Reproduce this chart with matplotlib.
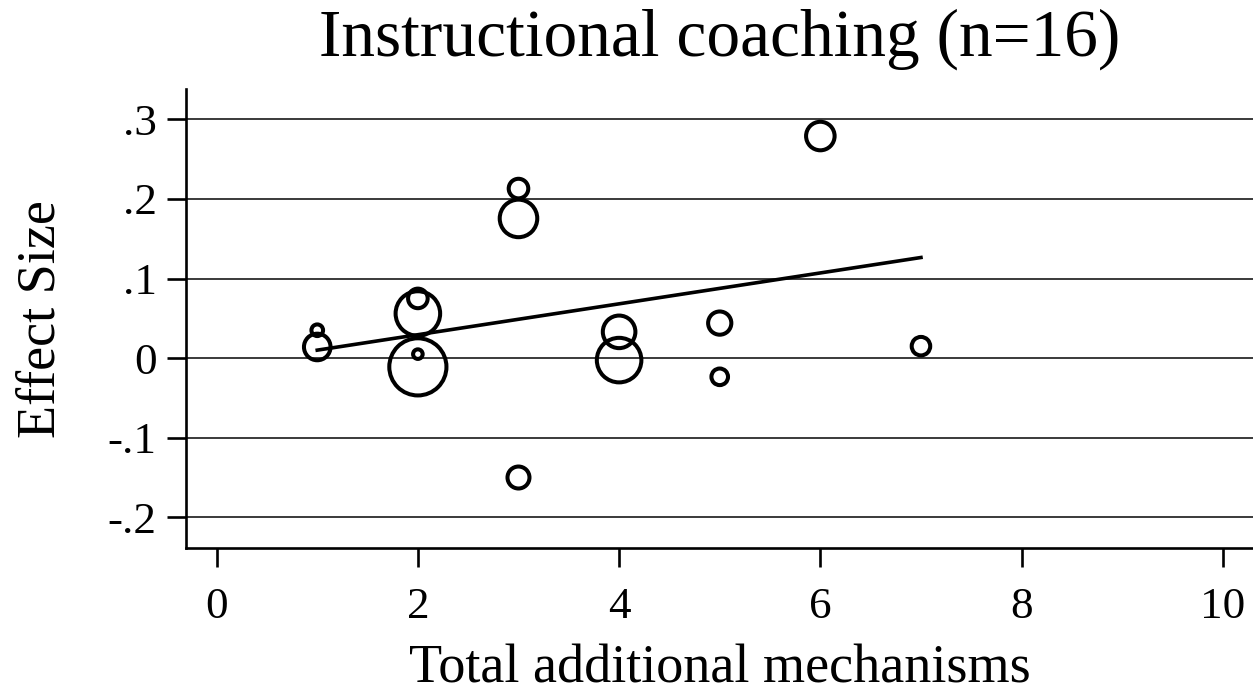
import numpy as np
import matplotlib.pyplot as plt

# studies: number of additional mechanisms, effect size, meta-analytic weight
mechanisms = [1, 1, 2, 2, 2, 2, 3, 3, 3, 4, 4, 5, 5, 6, 7]
effect = [0.035, 0.014, 0.075, 0.056, -0.011, 0.005, 0.213, 0.1755, -0.15,
          0.033, -0.0025, 0.044, -0.0235, 0.279, 0.015]
weight = [34, 177, 96, 497, 818, 23, 96, 353, 121, 266, 497, 135, 69, 204, 86]

# weighted fit line
fit_intercept = -0.0094
fit_slope = 0.0194

xticks = [0, 2, 4, 6, 8, 10]
yticks = [-0.2, -0.1, 0, 0.1, 0.2, 0.3]
yticklabels = ['-.2', '-.1', '0', '.1', '.2', '.3']

plt.rcParams['font.family'] = ['Liberation Serif', 'DejaVu Serif']

fig = plt.figure(figsize=(12.53, 6.95), dpi=100)
ax = fig.add_axes([0.1484, 0.211, 0.8516, 0.6605])

for yv in yticks:
    ax.axhline(yv, color='#3a3a3a', lw=1.4, zorder=1)

ax.scatter(mechanisms, effect, s=np.array(weight) * 2.07, facecolors='none',
           edgecolors='black', linewidths=2.9, zorder=3)

xf = np.array([min(mechanisms), max(mechanisms)])
ax.plot(xf, fit_intercept + fit_slope * xf, color='black', lw=2.6, zorder=4)

ax.set_xlim(-0.305, 10.3)
ax.set_ylim(-0.239, 0.3377)
ax.set_xticks(xticks)
ax.set_yticks(yticks)
ax.set_yticklabels(yticklabels)
ax.tick_params(axis='both', length=14, width=1.9, labelsize=32.5, color='black')
ax.tick_params(axis='y', pad=7)
ax.tick_params(axis='x', pad=14)

for side in ['top', 'right']:
    ax.spines[side].set_visible(False)
for side in ['left', 'bottom']:
    ax.spines[side].set_linewidth(1.9)

ax.set_title('Instructional coaching (n=16)', fontsize=48.5, pad=24)
ax.set_xlabel('Total additional mechanisms', fontsize=39, labelpad=12)
ax.set_ylabel('Effect Size', fontsize=39, labelpad=30)

fig.savefig('out.png', dpi=100)
